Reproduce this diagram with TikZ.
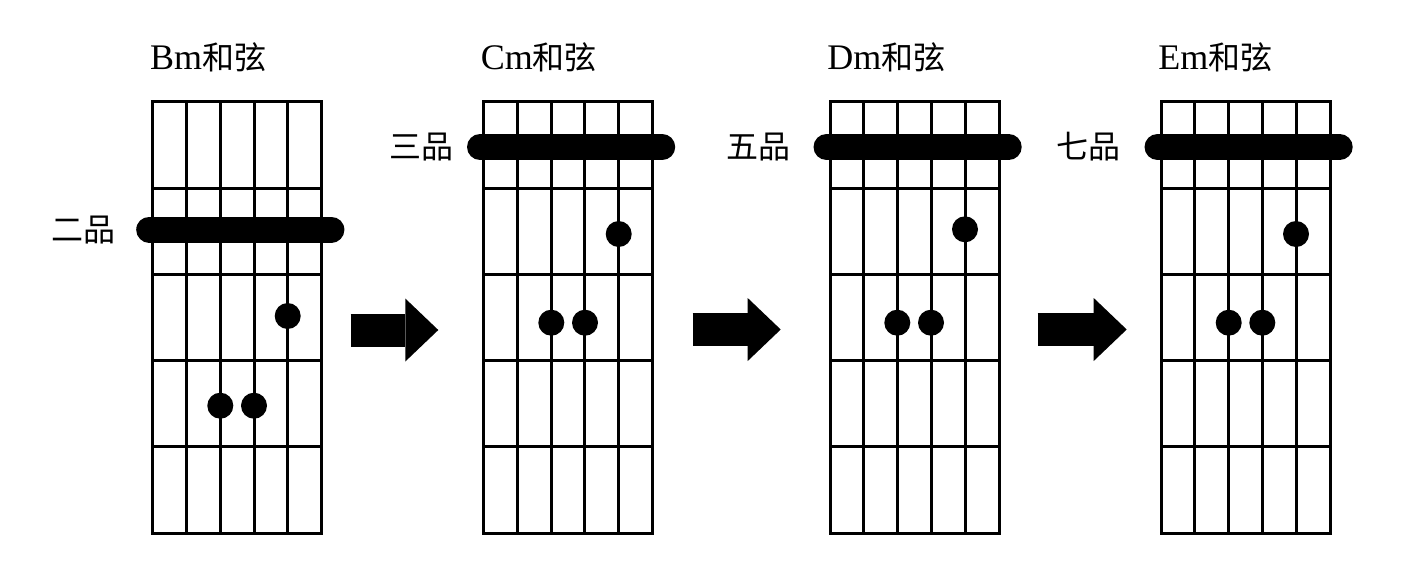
\documentclass[tikz,border=0pt]{standalone}
\usepackage{fontspec}
\setmainfont{Liberation Serif}
\newfontfamily\cjk{Noto Sans CJK SC}
\usetikzlibrary{arrows.meta,calc}

\begin{document}
\begin{tikzpicture}[x=0.5pt, y=-0.5pt,
  board/.style={draw, line width=1.5pt, minimum width=84.5pt, minimum height=215.8pt, inner sep=0pt, outer sep=0pt},
  wire/.style={line width=1.5pt},
  barre/.style={line width=13pt, line cap=round},
  dot/.style={circle, fill, minimum size=13pt, inner sep=0pt},
  title/.style={anchor=base west, inner sep=0pt, font=\fontsize{18}{20}\selectfont},
  fretno/.style={font=\fontsize{16}{20}\selectfont\cjk},
  bigarrow/.style={line width=16.5pt, -{Triangle[length=16.5pt, width=31.5pt, line width=0pt]}}]
\useasboundingbox (0,0) rectangle (1408,563);

% 指板
\node[board] (bm) at (237.2,317.5) {};
\node[board] (cm) at (568,317.5) {};
\node[board] (dm) at (914.5,317.5) {};
\node[board] (em) at (1245.5,317.5) {};

% 弦和品丝
\foreach \b in {bm,cm,dm,em} {
  \foreach \i in {1,...,4}
    \draw[wire] ($(\b.north west)!\i/5!(\b.north east)$) -- ($(\b.south west)!\i/5!(\b.south east)$);
  \foreach \i in {1,...,4}
    \draw[wire] ($(\b.north west)!\i/5!(\b.south west)$) -- ($(\b.north east)!\i/5!(\b.south east)$);
}

% 和弦名称
\node[title] (bmt) at (149.7,69.5) {Bm{\cjk\fontsize{16}{20}\selectfont 和弦}};
\node[title] (cmt) at (480.5,69.5) {Cm{\cjk\fontsize{16}{20}\selectfont 和弦}};
\node[title] (dmt) at (827,69.5) {Dm{\cjk\fontsize{16}{20}\selectfont 和弦}};
\node[title] (emt) at (1158,69.5) {Em{\cjk\fontsize{16}{20}\selectfont 和弦}};

% 品位
\node[fretno] (bmf) at (83.3,230) {二品};
\node[fretno] (cmf) at (421,147) {三品};
\node[fretno] (dmf) at (758,147) {五品};
\node[fretno] (emf) at (1088,147) {七品};

% 横按
\coordinate (bml) at (149.2,229.5);
\coordinate (bmr) at (331.4,229.5);
\coordinate (cml) at (480,147);
\coordinate (cmr) at (662.2,147);
\coordinate (dml) at (826.5,147);
\coordinate (dmr) at (1008.7,147);
\coordinate (eml) at (1157.5,147);
\coordinate (emr) at (1339.7,147);
\draw[barre] (bml) -- (bmr);
\draw[barre] (cml) -- (cmr);
\draw[barre] (dml) -- (dmr);
\draw[barre] (eml) -- (emr);

% 按弦位置
\node[dot] (bm1) at (287.7,316) {};
\node[dot] (bm2) at (220.3,405.7) {};
\node[dot] (bm3) at (254,405.7) {};
\node[dot] (cm1) at (618.7,234) {};
\node[dot] (cm2) at (551.3,322.7) {};
\node[dot] (cm3) at (585,322.7) {};
\node[dot] (dm1) at (965,229.3) {};
\node[dot] (dm2) at (897.3,322.7) {};
\node[dot] (dm3) at (931,322.7) {};
\node[dot] (em1) at (1296,234) {};
\node[dot] (em2) at (1228.7,322.7) {};
\node[dot] (em3) at (1262.3,322.7) {};

% 箭头
\coordinate (a1s) at (350.7,330);
\coordinate (a1e) at (438.3,330);
\coordinate (a2s) at (692.7,329.5);
\coordinate (a2e) at (780.7,329.5);
\coordinate (a3s) at (1037.7,329.5);
\coordinate (a3e) at (1126.7,329.5);
\draw[bigarrow] (a1s) -- (a1e);
\draw[bigarrow] (a2s) -- (a2e);
\draw[bigarrow] (a3s) -- (a3e);
\end{tikzpicture}
\end{document}
